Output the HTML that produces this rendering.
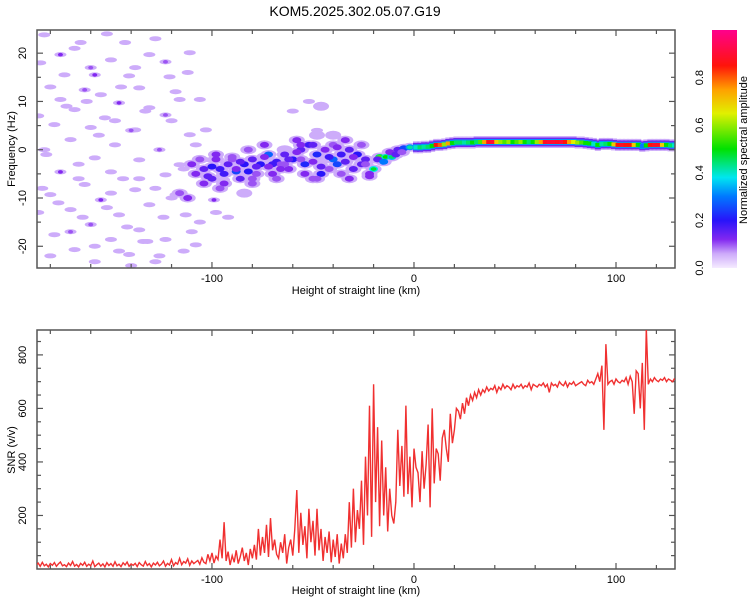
<!DOCTYPE html>
<html><head><meta charset="utf-8"><style>
body{margin:0;background:#fff;}
svg{display:block;font-family:"Liberation Sans",sans-serif;}
</style></head><body>
<svg id="c" width="750" height="600" xmlns="http://www.w3.org/2000/svg"></svg>
<script>
// ---- data ----
const xTicks=[-100,0,100];
const fTicks=[-20,-10,0,10,20];
const snrTicks=[200,400,600,800];
const cbTicks=[0.0,0.2,0.4,0.6,0.8];
const snrStart=-187;
const snr=[15,22,10,25,12,18,8,20,14,24,
10,19,26,12,16,9,22,13,28,11,
17,8,21,14,25,10,18,12,30,9,
16,22,11,19,8,24,13,20,10,27,
12,18,9,23,15,26,10,19,14,21,
9,24,16,11,28,13,20,8,22,15,
25,12,18,30,10,21,15,35,12,24,
18,40,16,28,22,38,14,30,20,26,
32,18,42,25,20,55,30,60,22,48,
35,110,40,175,30,65,15,50,25,70,
20,45,80,30,60,15,75,40,90,35,
150,50,120,60,165,45,190,70,110,55,
40,100,60,130,20,80,110,50,150,295,
60,210,90,160,40,225,100,180,50,225,
70,150,30,120,60,140,25,110,45,130,
20,95,40,130,60,250,80,300,100,220,
150,330,90,420,200,610,120,690,250,530,
160,480,200,380,140,300,200,170,250,520,
310,460,270,610,280,420,230,450,380,360,
250,440,300,390,540,230,600,320,450,430,
330,490,520,450,400,580,470,520,600,590,
560,620,580,640,610,650,630,660,640,670,
650,670,660,680,665,675,670,685,660,680,
670,690,675,685,680,670,690,675,685,680,
690,675,685,680,695,670,690,685,680,690,
685,695,680,690,660,695,685,690,680,700,
690,685,700,680,695,690,700,685,690,695,
700,690,685,705,695,700,690,710,730,700,
760,520,840,690,700,705,690,710,700,695,
705,700,715,690,720,700,580,740,730,600,
770,520,900,690,710,700,715,705,700,710,
705,715,700,710,705,700,712];
// sparse noise blobs (km, Hz, amplitude)
const noiseX=[-183,-165,-175,-143,-131,-111,-150,-123,-158,-173,-141,-121,-163,-136,-155,-175,-116,-146,-168,-131,-153,-123,-178,-160,-138,-111,-170,-148,-126,-183,-158,-136,-116,-175,-150,-123,-163,-138,-118,-180,-155,-131,-170,-146,-113,-160,-136,-178,-150,-123,-168,-141,-158,-128,-106,-103,-101,-99,-94,-108,
-185,-180,-168,-160,-152,-145,-138,-128,-118,-112,-186,-172,-162,-148,-140,-133,-120,-108,-182,-166,-156,-144,-128,-114,-104,-176,-164,-152,-142,-134,-124,-110,-98,-186,-170,-146,-132,-120,-106,-92,-180,-158,-140,-126,-114,-184,-166,-150,-136,-96,-60,-52,-48];
const noiseF=[23.8,22.2,19.7,22.2,19.7,20.1,18.6,18.2,15.5,15.5,15.3,15.1,12.4,12.8,11.4,10.4,10.4,9.7,8.3,8.7,6.6,7.2,5.2,4.6,4.1,3.1,2.1,1.0,0.0,0.0,-1.7,-2.1,-3.1,-4.6,-4.6,-5.2,-7.2,-8.3,-9.3,-9.3,-10.4,-11.4,-12.4,-13.5,-13.5,-15.5,-16.6,-17.6,-18.6,-18.6,-20.7,-21.7,-23.2,-23.2,10.4,4.1,-2.1,-10.4,-6.2,-19.7,
18,13,21,17,24,13,17,23,12,16,7,9,10,6,4,8,6,1,-1,-3,3,-6,-8,-4,-2,-11,-14,-12,-16,-19,-14,-17,-13,-13,-17,-21,-19,-10,-15,-14,-22,-20,-24,-22,-21,-8,-6,-9,-6,-8,8,10,4];
const noiseA=[0.05,0.05,0.12,0.05,0.08,0.05,0.05,0.1,0.12,0.05,0.05,0.05,0.1,0.05,0.05,0.08,0.05,0.12,0.05,0.05,0.05,0.1,0.05,0.05,0.05,0.05,0.05,0.05,0.1,0.05,0.05,0.05,0.05,0.12,0.05,0.05,0.05,0.05,0.05,0.05,0.12,0.05,0.05,0.05,0.05,0.1,0.05,0.05,0.05,0.05,0.05,0.05,0.05,0.05,0.05,0.05,0.05,0.12,0.05,0.05,
0.05,0.05,0.05,0.1,0.05,0.05,0.05,0.05,0.05,0.05,0.05,0.05,0.05,0.05,0.1,0.05,0.05,0.05,0.05,0.05,0.05,0.05,0.05,0.05,0.05,0.05,0.05,0.05,0.05,0.05,0.05,0.05,0.05,0.05,0.1,0.05,0.05,0.05,0.05,0.05,0.05,0.05,0.05,0.05,0.05,0.05,0.05,0.05,0.05,0.05,0.05,0.05,0.05];
// main cluster blobs
const clX=[-108,-104,-100,-96,-92,-88,-84,-80,-76,-72,-68,-64,-60,-56,-52,-48,-44,-40,-36,-32,-28,-24,-20,-17,-14,-11,-8,-5,-2,-100,-94,-86,-78,-70,-62,-54,-46,-38,-30,-22,-106,-98,-90,-82,-74,-66,-58,-50,-42,-34,-26,-80,-64,-48,-56,-40,-112,-116,-50,-46,
-110,-102,-98,-94,-90,-86,-82,-78,-74,-70,-66,-62,-58,-54,-50,-46,-42,-38,-34,-30,-26,-22,-18,-15,-12,-9,-6,-104,-96,-88,-80,-72,-64,-56,-48,-40,-32,-24,-84,-68,-44,-36];
const clF=[-5,-4,-3.5,-4,-3,-4.5,-3,-2,-3,-1,-2.5,-1,-2,0,1,-1,0,-2,-1,0,-1,-2,-4,-1.5,-1.5,-1.5,0,0.3,0.5,-6,-7,-6,-5,-5,-4,-5,-5,-3,-4,-5,-2,-1,-2,0,1,-3,2,1,-4,2,1,-6,-3,-6,1,1,-10,-9,-6,9,
-3,-5.5,-2,-5,-1.5,-2.5,-4.5,-3.5,-1.5,-3,-4,-2,-0.5,-3,-2.5,-3.5,-1.5,0.5,-2.5,-1.5,-3,-5.5,-2,-2.5,-0.5,-1,-0.5,-7,-8,-4,-7,-3.5,0,-2,3,3,-6,-3,-9,-6,-2,-5];
const clA=[0.12,0.15,0.2,0.18,0.15,0.25,0.2,0.15,0.2,0.28,0.18,0.15,0.2,0.15,0.18,0.22,0.12,0.28,0.18,0.15,0.2,0.15,0.38,0.45,0.4,0.35,0.15,0.25,0.32,0.15,0.12,0.15,0.1,0.12,0.12,0.12,0.2,0.25,0.15,0.12,0.1,0.12,0.1,0.1,0.12,0.1,0.12,0.15,0.1,0.12,0.1,0.1,0.1,0.1,0.12,0.1,0.12,0.1,0.1,0.05,
0.12,0.15,0.12,0.18,0.1,0.15,0.2,0.15,0.12,0.18,0.12,0.15,0.12,0.22,0.12,0.15,0.18,0.12,0.15,0.12,0.15,0.12,0.15,0.3,0.12,0.15,0.1,0.12,0.1,0.12,0.1,0.12,0.05,0.1,0.05,0.05,0.12,0.1,0.05,0.1,0.05,0.1];
// main ridge
const ridgeX=[0,2,4,6,8,10,12,14,16,18,20,22,24,26,28,30,32,34,36,38,40,42,44,46,48,50,52,54,56,58,60,62,64,66,68,70,72,74,76,78,80,82,84,86,88,90,92,94,96,98,100,102,104,106,108,110,112,114,116,118,120,122,124,126,128];
const ridgeF=[0.5,0.5,0.6,0.6,0.8,1.0,1.0,1.1,1.3,1.4,1.5,1.5,1.5,1.5,1.5,1.6,1.6,1.6,1.6,1.6,1.6,1.6,1.6,1.6,1.6,1.6,1.6,1.6,1.6,1.6,1.6,1.6,1.6,1.6,1.6,1.6,1.6,1.6,1.6,1.6,1.5,1.5,1.4,1.3,1.2,1.0,1.2,1.2,1.2,1.1,1.0,1.0,1.0,1.0,1.0,1.0,0.8,0.9,1.0,1.0,1.0,1.0,1.0,0.9,0.9];
const ridgeA=[0.4,0.45,0.42,0.45,0.5,0.85,0.8,0.6,0.75,0.5,0.45,0.45,0.42,0.45,0.5,0.45,0.55,0.75,0.88,0.9,0.7,0.6,0.55,0.6,0.5,0.55,0.6,0.5,0.45,0.5,0.6,0.75,0.88,0.9,0.9,0.88,0.9,0.85,0.75,0.65,0.6,0.55,0.5,0.5,0.4,0.5,0.42,0.45,0.5,0.7,0.85,0.88,0.85,0.85,0.7,0.5,0.3,0.5,0.85,0.88,0.88,0.7,0.5,0.45,0.4];

// ---- layout ----
const NS="http://www.w3.org/2000/svg";
const svg=document.getElementById('c');
const L=37,R=675,T1=30,B1=268,T2=330,B2=569;
const X0=-186.6,X1=129.2,F0=-24.5,F1=24.8,S0=0,S1=893;
const xs=v=>L+(v-X0)/(X1-X0)*(R-L);
const fy=v=>B1-(v-F0)/(F1-F0)*(B1-T1);
const sy=v=>B2-(v-S0)/(S1-S0)*(B2-T2);
function mk(tag,attrs,parent){const e=document.createElementNS(NS,tag);for(const k in attrs)e.setAttribute(k,attrs[k]);(parent||svg).appendChild(e);return e;}
const stops=[[0,[245,235,255]],[0.06,[205,170,250]],[0.12,[130,40,240]],[0.2,[40,20,250]],[0.3,[0,120,255]],[0.38,[0,230,240]],[0.5,[0,225,0]],[0.65,[225,240,0]],[0.75,[255,160,0]],[0.85,[255,20,10]],[1,[255,0,140]]];
function cmap(a){for(let i=1;i<stops.length;i++){if(a<=stops[i][0]){const[t0,c0]=stops[i-1],[t1,c1]=stops[i];const t=(a-t0)/(t1-t0);return 'rgb('+c0.map((c,j)=>Math.round(c+(c1[j]-c0[j])*t)).join(',')+')';}}return 'rgb(255,0,140)';}

const title=mk('text',{x:355,y:16,'text-anchor':'middle','font-size':14,fill:'#000'});title.textContent='KOM5.2025.302.05.07.G19';



// ---- heatmap ----
const defs=mk('defs',{});
const cp=mk('clipPath',{id:'cp1'},defs);mk('rect',{x:L,y:T1,width:R-L,height:B1-T1},cp);
const hm=mk('g',{'clip-path':'url(#cp1)'});


const halo='rgb(205,172,250)';
const layerH=mk('g',{},hm),layerC=mk('g',{},hm);
function blob(x,f,a,big){
  const cx=xs(x),cy=fy(f);
  const h=mk('ellipse',{cx:cx,cy:cy,rx:big?8:6,ry:big?4.5:2.5,fill:halo},layerH);
  
  
  if(a>0.08){
    const c=mk('ellipse',{cx:cx,cy:cy,rx:big?4.5:2.5,ry:big?3:1.8,fill:cmap(a)},layerC);
    
    
    if(a>0.3){const k=mk('ellipse',{cx:cx,cy:cy,rx:3,ry:1.8,fill:cmap(Math.min(1,a+0.1))},layerC);
      
      }
  }
}
for(let i=0;i<noiseX.length;i++)blob(noiseX[i],noiseF[i],noiseA[i],false);
for(let i=0;i<clX.length;i++)blob(clX[i],clF[i],clA[i],true);
const bands=[[12,halo],[9,'rgb(110,40,240)'],[6,'rgb(0,150,255)']];
bands.forEach(([hgt,col])=>{for(let i=0;i<ridgeX.length;i++){const x0=xs(ridgeX[i]),x1=xs(ridgeX[Math.min(i+1,ridgeX.length-1)]);
  const r=mk('rect',{x:x0-1,y:fy(ridgeF[i])-hgt/2,width:Math.max(x1-x0,2)+2,height:hgt,fill:col},hm);
  
  }});
for(let i=0;i<ridgeX.length;i++){const x0=xs(ridgeX[i]),x1=xs(ridgeX[Math.min(i+1,ridgeX.length-1)]);
  const r=mk('rect',{x:x0-0.5,y:fy(ridgeF[i])-2,width:Math.max(x1-x0,2)+1,height:4,fill:cmap(ridgeA[i])},hm);
  
  }

// ---- axes frames ----
function frame(top,bot,name){const r=mk('rect',{x:L,y:top,width:R-L,height:bot-top,fill:'none',stroke:'#555','stroke-width':1.5});
  
  }
frame(T1,B1,'top-plot-frame');frame(T2,B2,'bottom-plot-frame');
const tk=mk('g',{stroke:'#555','stroke-width':1.2});


for(let v=-180;v<=120;v+=20){const x=xs(v);[[T1,B1],[T2,B2]].forEach(([t,b])=>{const len=v%100===0?6:4;mk('line',{x1:x,y1:t,x2:x,y2:t+len},tk);mk('line',{x1:x,y1:b,x2:x,y2:b-len},tk);});}
for(let v=-20;v<=20;v+=5){const y=fy(v),len=v%10===0?6:4;mk('line',{x1:L,y1:y,x2:L+len,y2:y},tk);mk('line',{x1:R,y1:y,x2:R-len,y2:y},tk);}
for(let v=50;v<=850;v+=50){const y=sy(v),len=v%200===0?6:4;mk('line',{x1:L,y1:y,x2:L+len,y2:y},tk);mk('line',{x1:R,y1:y,x2:R-len,y2:y},tk);}
function txt(s,x,y,opt,name){const t=mk('text',Object.assign({x:x,y:y,'font-size':11,fill:'#000'},opt||{}));t.textContent=s;
  
  return t;}
xTicks.forEach(v=>{txt(String(v),xs(v),282,{'text-anchor':'middle'},'x-tick-label');txt(String(v),xs(v),583,{'text-anchor':'middle'},'x-tick-label');});
fTicks.forEach(v=>{const y=fy(v);txt(String(v),26,y,{'text-anchor':'middle',transform:'rotate(-90 26 '+y+')'},'y-tick-label');});
snrTicks.forEach(v=>{const y=sy(v);txt(String(v),26,y,{'text-anchor':'middle',transform:'rotate(-90 26 '+y+')'},'y-tick-label');});
txt('Height of straight line (km)',356,294,{'text-anchor':'middle'},'x-axis-title');
txt('Height of straight line (km)',356,594,{'text-anchor':'middle'},'x-axis-title');
txt('Frequency (Hz)',15,149,{'text-anchor':'middle',transform:'rotate(-90 15 149)'},'y-axis-title');
txt('SNR (v/v)',15,450,{'text-anchor':'middle',transform:'rotate(-90 15 450)'},'y-axis-title');

// ---- SNR line ----
let d='';snr.forEach((v,i)=>{d+=(i?'L':'M')+xs(snrStart+i).toFixed(1)+' '+sy(v).toFixed(1);});
const cp2=mk('clipPath',{id:'cp2'},defs);mk('rect',{x:L,y:T2,width:R-L,height:B2-T2},cp2);
const ln=mk('path',{d:d,fill:'none',stroke:'#f03030','stroke-width':1.4,'clip-path':'url(#cp2)'});



// ---- colorbar ----
const grad=mk('linearGradient',{id:'cbg',x1:0,y1:1,x2:0,y2:0},defs);
stops.forEach(([t,c])=>mk('stop',{offset:t,'stop-color':'rgb('+c.join(',')+')'},grad));
const cb=mk('rect',{x:712,y:30,width:25,height:238,fill:'url(#cbg)'});


const cbY=v=>268-v*238;
cbTicks.forEach(v=>{const y=cbY(v);txt(v.toFixed(1),703,y,{'text-anchor':'middle',transform:'rotate(-90 703 '+y+')'},'colorbar-tick-label');});
txt('Normalized spectral amplitude',747,150,{'text-anchor':'middle',transform:'rotate(-90 747 150)'},'colorbar-title');
</script>
</body></html>
